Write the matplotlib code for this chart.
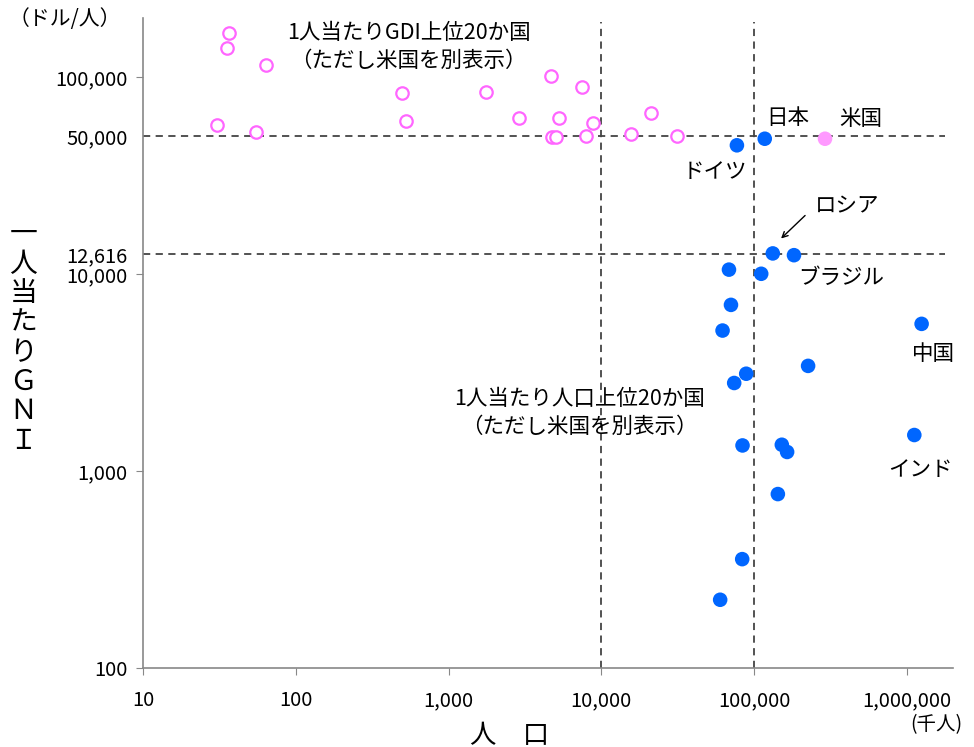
import matplotlib
matplotlib.use('Agg')
import matplotlib.pyplot as plt
from matplotlib.ticker import FixedLocator, NullLocator

plt.rcParams['font.family'] = ['Noto Sans CJK JP', 'DejaVu Sans']

# GNI per capita top 20 (excluding US): population (thousand), GNI per capita (USD)
gni_pop = [36.3, 35.6, 63.7, 30.3, 55.3, 493, 524, 1754, 2911, 4665,
           5262, 4768, 5060, 7432, 8826, 7943, 15700, 21130, 31260]
gni_val = [168600, 140300, 115300, 57000, 52600, 82800, 59900, 84100, 61800, 101400,
           62300, 49700, 49700, 88900, 58700, 50200, 51400, 65800, 50200]

# population top 20 (excluding US)
pop_pop = [77100, 117300, 132400, 182200, 68400, 111200, 70500, 62100, 1247000, 225400,
           88700, 74000, 1117000, 83900, 151700, 164300, 142900, 83500, 59900]
pop_val = [45100, 48700, 12740, 12480, 10540, 10040, 6980, 5170, 5590, 3420,
           3120, 2800, 1524, 1349, 1360, 1250, 764, 357, 222]

us_pop = 290800
us_val = 48700

# reference lines
x_refs = [10000, 100000]
y_refs = [50000, 12616]

x_ticks = [10, 100, 1000, 10000, 100000, 1000000]
y_ticks = [100, 1000, 10000, 100000]
y_extra = [12616, 50000]

fig = plt.figure(figsize=(9.74, 7.47), dpi=100)
ax = fig.add_axes([0.1468, 0.1058, 0.8316, 0.8702])
ax.set_xscale('log')
ax.set_yscale('log')
ax.set_xlim(10, 2000000)
ax.set_ylim(100, 200000)

# dashed reference lines
for xv in x_refs:
    ax.plot([xv, xv], [100, 190000], ls=(0, (4, 3)), color='#444444', lw=1.3, zorder=1)
for yv in y_refs:
    ax.plot([10, 1780000], [yv, yv], ls=(0, (4, 3)), color='#444444', lw=1.3, zorder=1)

ax.scatter(gni_pop, gni_val, s=80, facecolors='white', edgecolors='#FF66FF',
           linewidths=1.6, zorder=3)
ax.scatter(pop_pop, pop_val, s=110, color='#0066FF', edgecolors='none', zorder=3)
ax.scatter([us_pop], [us_val], s=110, color='#FF99FF', edgecolors='none', zorder=3)

# axes styling
for side in ['top', 'right']:
    ax.spines[side].set_visible(False)
for side in ['left', 'bottom']:
    ax.spines[side].set_color('#888888')
    ax.spines[side].set_linewidth(1.2)

ax.xaxis.set_major_locator(FixedLocator(x_ticks))
ax.xaxis.set_minor_locator(NullLocator())
ax.set_xticklabels([f'{v:,}' for v in x_ticks])
ax.yaxis.set_major_locator(FixedLocator(y_ticks))
ax.yaxis.set_minor_locator(FixedLocator(y_extra))
ax.set_yticklabels([f'{v:,}' for v in y_ticks])
ax.set_yticklabels([f'{v:,}' for v in y_extra], minor=True)
ax.tick_params(axis='both', which='major', direction='out', length=5,
               color='#888888', labelsize=14.5, pad=6)
ax.tick_params(axis='x', which='major', pad=11)
ax.tick_params(axis='y', which='minor', length=0, labelsize=14.5, pad=11)

# country labels
fs = 15.5
ax.text(166700, 61800, '日本', fontsize=fs, ha='center', va='center')
ax.text(500000, 61100, '米国', fontsize=fs, ha='center', va='center')
ax.text(55600, 32900, 'ドイツ', fontsize=fs, ha='center', va='center')
ax.text(405000, 22070, 'ロシア', fontsize=fs, ha='center', va='center')
ax.annotate('', xy=(145500, 14830), xytext=(222000, 20300),
            arrowprops=dict(arrowstyle='->', color='black', lw=1.0))
ax.text(370000, 9610, 'ブラジル', fontsize=fs, ha='center', va='center')
ax.text(1500000, 3950, '中国', fontsize=fs, ha='center', va='center')
ax.text(1217000, 1016, 'インド', fontsize=fs, ha='center', va='center')

ax.text(548, 141900, '1人当たりGDI上位20か国\n（ただし米国を別表示）', fontsize=fs,
        ha='center', va='center', linespacing=1.35)
ax.text(7180, 1978, '1人当たり人口上位20か国\n（ただし米国を別表示）', fontsize=fs,
        ha='center', va='center', linespacing=1.35)

# axis titles
fig.text(0.066, 0.975, '（ドル/人）', fontsize=15, ha='center', va='center')
fig.text(0.961, 0.030, '(千人)', fontsize=14, ha='center', va='center')
fig.text(0.523, 0.016, '人　口', fontsize=19, ha='center', va='center')
fig.text(0.024, 0.548, '\n'.join('一人当たりＧＮＩ'), fontsize=20, ha='center', va='center',
         linespacing=0.98)

fig.savefig('out.png', dpi=100)
